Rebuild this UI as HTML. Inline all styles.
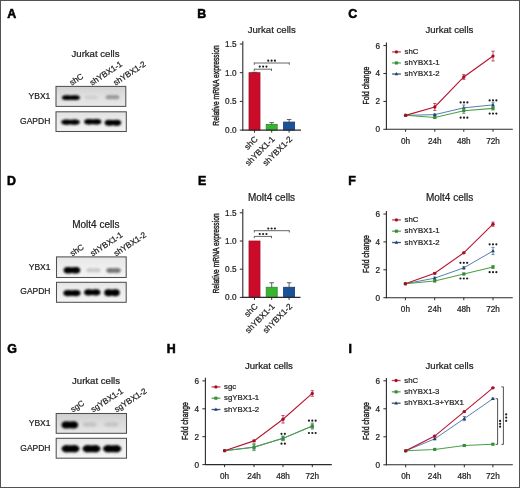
<!DOCTYPE html>
<html><head><meta charset="utf-8"><style>
html,body{margin:0;padding:0;background:#fff;}
svg{display:block;font-family:"Liberation Sans", sans-serif;will-change:transform;}
</style></head><body>
<svg width="520" height="488" viewBox="0 0 520 488">
<defs>
<linearGradient id="blotbg" x1="0" y1="0" x2="0" y2="1"><stop offset="0" stop-color="#d4d4d4"/><stop offset="0.5" stop-color="#e2e2e2"/><stop offset="1" stop-color="#ececec"/></linearGradient>
<linearGradient id="g0" x1="0" y1="0" x2="0" y2="1"><stop offset="0" stop-color="#d2d2d2"/><stop offset="0.5" stop-color="#e0e0e0"/><stop offset="1" stop-color="#e8e8e8"/></linearGradient><linearGradient id="g1" x1="0" y1="0" x2="0" y2="1"><stop offset="0" stop-color="#e2e2e2"/><stop offset="0.5" stop-color="#ececec"/><stop offset="1" stop-color="#f2f2f2"/></linearGradient><linearGradient id="g2" x1="0" y1="0" x2="0" y2="1"><stop offset="0" stop-color="#e6e6e6"/><stop offset="0.5" stop-color="#efefef"/><stop offset="1" stop-color="#f3f3f3"/></linearGradient><linearGradient id="g3" x1="0" y1="0" x2="0" y2="1"><stop offset="0" stop-color="#e6e6e6"/><stop offset="0.5" stop-color="#efefef"/><stop offset="1" stop-color="#f3f3f3"/></linearGradient><linearGradient id="g4" x1="0" y1="0" x2="0" y2="1"><stop offset="0" stop-color="#d0d0d0"/><stop offset="0.5" stop-color="#dcdcdc"/><stop offset="1" stop-color="#e6e6e6"/></linearGradient><linearGradient id="g5" x1="0" y1="0" x2="0" y2="1"><stop offset="0" stop-color="#e8e8e8"/><stop offset="0.5" stop-color="#f1f1f1"/><stop offset="1" stop-color="#f5f5f5"/></linearGradient>
<filter id="bl" x="-30%" y="-100%" width="160%" height="300%"><feGaussianBlur stdDeviation="0.8"/></filter>
</defs>
<rect x="0" y="0" width="520" height="488" fill="#fff"/>
<text x="7.3" y="17.9" font-size="12.4" text-anchor="start" font-weight="bold" fill="#000"  stroke="#000" stroke-width="0.55">A</text>
<text x="197.2" y="17.9" font-size="12.4" text-anchor="start" font-weight="bold" fill="#000"  stroke="#000" stroke-width="0.55">B</text>
<text x="348.2" y="18.0" font-size="12.4" text-anchor="start" font-weight="bold" fill="#000"  stroke="#000" stroke-width="0.55">C</text>
<text x="7.0" y="185.3" font-size="12.4" text-anchor="start" font-weight="bold" fill="#000"  stroke="#000" stroke-width="0.55">D</text>
<text x="198.0" y="185.3" font-size="12.4" text-anchor="start" font-weight="bold" fill="#000"  stroke="#000" stroke-width="0.55">E</text>
<text x="348.2" y="185.4" font-size="12.4" text-anchor="start" font-weight="bold" fill="#000"  stroke="#000" stroke-width="0.55">F</text>
<text x="7.2" y="352.7" font-size="12.4" text-anchor="start" font-weight="bold" fill="#000"  stroke="#000" stroke-width="0.55">G</text>
<text x="166.8" y="352.7" font-size="12.4" text-anchor="start" font-weight="bold" fill="#000"  stroke="#000" stroke-width="0.55">H</text>
<text x="348.4" y="352.7" font-size="12.4" text-anchor="start" font-weight="bold" fill="#000"  stroke="#000" stroke-width="0.55">I</text>
<text x="95.5" y="56.8" font-size="9.6" text-anchor="middle" font-weight="normal" fill="#222"  stroke="#222" stroke-width="0.22">Jurkat cells</text>
<text x="71.8" y="85.7" font-size="8.2" text-anchor="start" font-weight="normal" fill="#222" transform="rotate(-33 71.8 85.7)"  stroke="#222" stroke-width="0.22">shC</text>
<text x="92.0" y="85.7" font-size="8.2" text-anchor="start" font-weight="normal" fill="#222" transform="rotate(-33 92.0 85.7)"  stroke="#222" stroke-width="0.22">shYBX1-1</text>
<text x="115.5" y="85.7" font-size="8.2" text-anchor="start" font-weight="normal" fill="#222" transform="rotate(-33 115.5 85.7)"  stroke="#222" stroke-width="0.22">shYBX1-2</text>
<rect x="56.0" y="86.4" width="69.80" height="20.00" fill="url(#g0)" stroke="#505050" stroke-width="1.05"/>
<g fill="#050505" filter="url(#bl)"><ellipse cx="66.76" cy="97.70" rx="4.86" ry="2.40"/><ellipse cx="75.04" cy="97.70" rx="4.86" ry="2.40"/><rect x="64.82" y="95.59" width="12.17" height="4.22"/></g>
<g fill="#d0d0d0" filter="url(#bl)"><ellipse cx="88.34" cy="97.40" rx="3.54" ry="1.95"/><ellipse cx="94.36" cy="97.40" rx="3.54" ry="1.95"/><rect x="86.92" y="95.68" width="8.86" height="3.43"/></g>
<g fill="#999" filter="url(#bl)"><ellipse cx="109.33" cy="97.20" rx="3.73" ry="2.15"/><ellipse cx="115.67" cy="97.20" rx="3.73" ry="2.15"/><rect x="107.84" y="95.31" width="9.33" height="3.78"/></g>
<text x="50.3" y="99.4" font-size="8.5" text-anchor="end" font-weight="normal" fill="#222"  stroke="#222" stroke-width="0.22">YBX1</text>
<rect x="56.0" y="111.8" width="70.30" height="19.70" fill="url(#g1)" stroke="#505050" stroke-width="1.05"/>
<g fill="#050505" filter="url(#bl)"><ellipse cx="66.25" cy="122.10" rx="5.05" ry="2.65"/><ellipse cx="74.85" cy="122.10" rx="5.05" ry="2.65"/><rect x="64.23" y="119.77" width="12.64" height="4.66"/></g>
<g fill="#050505" filter="url(#bl)"><ellipse cx="88.77" cy="121.80" rx="4.67" ry="2.75"/><ellipse cx="96.73" cy="121.80" rx="4.67" ry="2.75"/><rect x="86.90" y="119.38" width="11.69" height="4.84"/></g>
<g fill="#050505" filter="url(#bl)"><ellipse cx="109.08" cy="122.70" rx="4.48" ry="2.95"/><ellipse cx="116.72" cy="122.70" rx="4.48" ry="2.95"/><rect x="107.29" y="120.10" width="11.22" height="5.19"/></g>
<text x="50.3" y="123.6" font-size="8.5" text-anchor="end" font-weight="normal" fill="#222"  stroke="#222" stroke-width="0.22">GAPDH</text>
<text x="271.7" y="33.2" font-size="9.6" text-anchor="middle" font-weight="normal" fill="#222"  stroke="#222" stroke-width="0.22">Jurkat cells</text>
<text x="0" y="0" font-size="9.2" text-anchor="middle" fill="#222" stroke="#222" stroke-width="0.42" transform="translate(218.6 85.5) rotate(-90) scale(0.735 1)">Relative mRNA expression</text>
<rect x="249.0" y="72.69999999999999" width="11.0" height="57.400000000000006" fill="#cc0a2a" stroke="#a00d25" stroke-width="0.8"/>
<line x1="254.5" y1="72.2408" x2="254.5" y2="72.69999999999999" stroke="#3a3a3a" stroke-width="0.8"/>
<line x1="252.2" y1="72.2408" x2="256.8" y2="72.2408" stroke="#3a3a3a" stroke-width="0.8"/>
<rect x="266.2" y="124.36" width="11.0" height="5.739999999999995" fill="#38b430" stroke="#2a8a2a" stroke-width="0.8"/>
<line x1="271.7" y1="122.63799999999999" x2="271.7" y2="124.36" stroke="#3a3a3a" stroke-width="0.8"/>
<line x1="269.4" y1="122.63799999999999" x2="274.0" y2="122.63799999999999" stroke="#3a3a3a" stroke-width="0.8"/>
<rect x="283.6" y="122.064" width="11.0" height="8.036000000000001" fill="#1b5196" stroke="#163a70" stroke-width="0.8"/>
<line x1="289.1" y1="119.481" x2="289.1" y2="122.064" stroke="#3a3a3a" stroke-width="0.8"/>
<line x1="286.8" y1="119.481" x2="291.40000000000003" y2="119.481" stroke="#3a3a3a" stroke-width="0.8"/>
<line x1="242.8" y1="41.3" x2="242.8" y2="130.6" stroke="#2a2a2a" stroke-width="1.1"/>
<line x1="242.3" y1="130.1" x2="301.0" y2="130.1" stroke="#2a2a2a" stroke-width="1.1"/>
<line x1="239.8" y1="130.1" x2="242.8" y2="130.1" stroke="#2a2a2a" stroke-width="1"/>
<text x="236.5" y="133.0" font-size="8.2" text-anchor="end" font-weight="normal" fill="#222"  stroke="#222" stroke-width="0.22">0.0</text>
<line x1="239.8" y1="101.39999999999999" x2="242.8" y2="101.39999999999999" stroke="#2a2a2a" stroke-width="1"/>
<text x="236.5" y="104.3" font-size="8.2" text-anchor="end" font-weight="normal" fill="#222"  stroke="#222" stroke-width="0.22">0.5</text>
<line x1="239.8" y1="72.69999999999999" x2="242.8" y2="72.69999999999999" stroke="#2a2a2a" stroke-width="1"/>
<text x="236.5" y="75.6" font-size="8.2" text-anchor="end" font-weight="normal" fill="#222"  stroke="#222" stroke-width="0.22">1.0</text>
<line x1="239.8" y1="44.0" x2="242.8" y2="44.0" stroke="#2a2a2a" stroke-width="1"/>
<text x="236.5" y="46.9" font-size="8.2" text-anchor="end" font-weight="normal" fill="#222"  stroke="#222" stroke-width="0.22">1.5</text>
<line x1="254.5" y1="130.1" x2="254.5" y2="132.6" stroke="#2a2a2a" stroke-width="1"/>
<line x1="271.7" y1="130.1" x2="271.7" y2="132.6" stroke="#2a2a2a" stroke-width="1"/>
<line x1="289.1" y1="130.1" x2="289.1" y2="132.6" stroke="#2a2a2a" stroke-width="1"/>
<text x="258.2" y="139.7" font-size="8.4" text-anchor="end" font-weight="normal" fill="#222" transform="rotate(-45 258.2 139.7)"  stroke="#222" stroke-width="0.22">shC</text>
<text x="275.2" y="139.7" font-size="8.4" text-anchor="end" font-weight="normal" fill="#222" transform="rotate(-45 275.2 139.7)"  stroke="#222" stroke-width="0.22">shYBX1-1</text>
<text x="292.8" y="139.7" font-size="8.4" text-anchor="end" font-weight="normal" fill="#222" transform="rotate(-45 292.8 139.7)"  stroke="#222" stroke-width="0.22">shYBX1-2</text>
<line x1="254.3" y1="69.2" x2="271.5" y2="69.2" stroke="#555" stroke-width="0.9"/>
<line x1="254.3" y1="68.75" x2="254.3" y2="71.0" stroke="#555" stroke-width="0.9"/>
<line x1="271.5" y1="68.75" x2="271.5" y2="71.0" stroke="#555" stroke-width="0.9"/>
<circle cx="259.75" cy="66.6" r="1.08" fill="#1a1a1a"/>
<circle cx="263.10" cy="66.6" r="1.08" fill="#1a1a1a"/>
<circle cx="266.45" cy="66.6" r="1.08" fill="#1a1a1a"/>
<line x1="254.3" y1="63.0" x2="289.3" y2="63.0" stroke="#555" stroke-width="0.9"/>
<line x1="254.3" y1="62.55" x2="254.3" y2="64.8" stroke="#555" stroke-width="0.9"/>
<line x1="289.3" y1="62.55" x2="289.3" y2="64.8" stroke="#555" stroke-width="0.9"/>
<circle cx="268.25" cy="60.7" r="1.08" fill="#1a1a1a"/>
<circle cx="271.60" cy="60.7" r="1.08" fill="#1a1a1a"/>
<circle cx="274.95" cy="60.7" r="1.08" fill="#1a1a1a"/>
<text x="449.4" y="33.2" font-size="9.6" text-anchor="middle" font-weight="normal" fill="#222"  stroke="#222" stroke-width="0.22">Jurkat cells</text>
<text x="0" y="0" font-size="9.0" text-anchor="middle" fill="#222" stroke="#222" stroke-width="0.42" transform="translate(368.6 85.6) rotate(-90) scale(0.765 1)">Fold change</text>
<line x1="386.4" y1="42.5" x2="386.4" y2="129.8" stroke="#2a2a2a" stroke-width="1.1"/>
<line x1="385.9" y1="129.3" x2="512.8" y2="129.3" stroke="#2a2a2a" stroke-width="1.1"/>
<line x1="383.4" y1="129.3" x2="386.4" y2="129.3" stroke="#2a2a2a" stroke-width="1"/>
<text x="380.09999999999997" y="132.20000000000002" font-size="8.2" text-anchor="end" font-weight="normal" fill="#222"  stroke="#222" stroke-width="0.22">0</text>
<line x1="383.4" y1="101.4" x2="386.4" y2="101.4" stroke="#2a2a2a" stroke-width="1"/>
<text x="380.09999999999997" y="104.30000000000001" font-size="8.2" text-anchor="end" font-weight="normal" fill="#222"  stroke="#222" stroke-width="0.22">2</text>
<line x1="383.4" y1="73.50000000000001" x2="386.4" y2="73.50000000000001" stroke="#2a2a2a" stroke-width="1"/>
<text x="380.09999999999997" y="76.40000000000002" font-size="8.2" text-anchor="end" font-weight="normal" fill="#222"  stroke="#222" stroke-width="0.22">4</text>
<line x1="383.4" y1="45.60000000000002" x2="386.4" y2="45.60000000000002" stroke="#2a2a2a" stroke-width="1"/>
<text x="380.09999999999997" y="48.50000000000002" font-size="8.2" text-anchor="end" font-weight="normal" fill="#222"  stroke="#222" stroke-width="0.22">6</text>
<line x1="405.6" y1="129.3" x2="405.6" y2="131.8" stroke="#2a2a2a" stroke-width="1"/>
<text x="405.6" y="143.5" font-size="8.2" text-anchor="middle" font-weight="normal" fill="#222"  stroke="#222" stroke-width="0.22">0h</text>
<line x1="434.8" y1="129.3" x2="434.8" y2="131.8" stroke="#2a2a2a" stroke-width="1"/>
<text x="434.8" y="143.5" font-size="8.2" text-anchor="middle" font-weight="normal" fill="#222"  stroke="#222" stroke-width="0.22">24h</text>
<line x1="463.8" y1="129.3" x2="463.8" y2="131.8" stroke="#2a2a2a" stroke-width="1"/>
<text x="463.8" y="143.5" font-size="8.2" text-anchor="middle" font-weight="normal" fill="#222"  stroke="#222" stroke-width="0.22">48h</text>
<line x1="493.0" y1="129.3" x2="493.0" y2="131.8" stroke="#2a2a2a" stroke-width="1"/>
<text x="493.0" y="143.5" font-size="8.2" text-anchor="middle" font-weight="normal" fill="#222"  stroke="#222" stroke-width="0.22">72h</text>
<polyline points="405.6,115.35000000000001 434.8,114.65250000000002 463.8,107.81700000000001 493.0,104.88750000000002" fill="none" stroke="#3a679c" stroke-width="0.85"/>
<path d="M405.60 113.45 L407.40 116.65 L403.80 116.65 Z" fill="#1f3f6a"/>
<line x1="434.8" y1="113.95500000000001" x2="434.8" y2="115.35000000000001" stroke="#3a679c" stroke-width="0.75"/>
<line x1="433.2" y1="113.95500000000001" x2="436.40000000000003" y2="113.95500000000001" stroke="#3a679c" stroke-width="0.75"/>
<line x1="433.2" y1="115.35000000000001" x2="436.40000000000003" y2="115.35000000000001" stroke="#3a679c" stroke-width="0.75"/>
<path d="M434.80 112.75 L436.60 115.95 L433.00 115.95 Z" fill="#1f3f6a"/>
<line x1="463.8" y1="105.02700000000002" x2="463.8" y2="110.60700000000001" stroke="#3a679c" stroke-width="0.75"/>
<line x1="462.2" y1="105.02700000000002" x2="465.40000000000003" y2="105.02700000000002" stroke="#3a679c" stroke-width="0.75"/>
<line x1="462.2" y1="110.60700000000001" x2="465.40000000000003" y2="110.60700000000001" stroke="#3a679c" stroke-width="0.75"/>
<path d="M463.80 105.92 L465.60 109.12 L462.00 109.12 Z" fill="#1f3f6a"/>
<line x1="493.0" y1="102.79500000000002" x2="493.0" y2="106.98000000000002" stroke="#3a679c" stroke-width="0.75"/>
<line x1="491.4" y1="102.79500000000002" x2="494.6" y2="102.79500000000002" stroke="#3a679c" stroke-width="0.75"/>
<line x1="491.4" y1="106.98000000000002" x2="494.6" y2="106.98000000000002" stroke="#3a679c" stroke-width="0.75"/>
<path d="M493.00 102.99 L494.80 106.19 L491.20 106.19 Z" fill="#1f3f6a"/>
<polyline points="405.6,115.35000000000001 434.8,117.44250000000001 463.8,110.74650000000001 493.0,108.37500000000001" fill="none" stroke="#48a048" stroke-width="1.05"/>
<rect x="404.05" y="113.80" width="3.1" height="3.1" fill="#3a8c3a"/>
<line x1="434.8" y1="116.745" x2="434.8" y2="118.14000000000001" stroke="#48a048" stroke-width="0.75"/>
<line x1="433.2" y1="116.745" x2="436.40000000000003" y2="116.745" stroke="#48a048" stroke-width="0.75"/>
<line x1="433.2" y1="118.14000000000001" x2="436.40000000000003" y2="118.14000000000001" stroke="#48a048" stroke-width="0.75"/>
<rect x="433.25" y="115.89" width="3.1" height="3.1" fill="#3a8c3a"/>
<line x1="463.8" y1="107.9565" x2="463.8" y2="113.53650000000002" stroke="#48a048" stroke-width="0.75"/>
<line x1="462.2" y1="107.9565" x2="465.40000000000003" y2="107.9565" stroke="#48a048" stroke-width="0.75"/>
<line x1="462.2" y1="113.53650000000002" x2="465.40000000000003" y2="113.53650000000002" stroke="#48a048" stroke-width="0.75"/>
<rect x="462.25" y="109.20" width="3.1" height="3.1" fill="#3a8c3a"/>
<line x1="493.0" y1="106.70100000000001" x2="493.0" y2="110.049" stroke="#48a048" stroke-width="0.75"/>
<line x1="491.4" y1="106.70100000000001" x2="494.6" y2="106.70100000000001" stroke="#48a048" stroke-width="0.75"/>
<line x1="491.4" y1="110.049" x2="494.6" y2="110.049" stroke="#48a048" stroke-width="0.75"/>
<rect x="491.45" y="106.83" width="3.1" height="3.1" fill="#3a8c3a"/>
<polyline points="405.6,115.35000000000001 434.8,106.98000000000002 463.8,76.98750000000001 493.0,56.062500000000014" fill="none" stroke="#b8152f" stroke-width="1.1"/>
<circle cx="405.6" cy="115.35" r="1.65" fill="#a30f29"/>
<line x1="434.8" y1="103.4925" x2="434.8" y2="110.46750000000002" stroke="#b8152f" stroke-width="0.75"/>
<line x1="433.2" y1="103.4925" x2="436.40000000000003" y2="103.4925" stroke="#b8152f" stroke-width="0.75"/>
<line x1="433.2" y1="110.46750000000002" x2="436.40000000000003" y2="110.46750000000002" stroke="#b8152f" stroke-width="0.75"/>
<circle cx="434.8" cy="106.98" r="1.65" fill="#a30f29"/>
<line x1="463.8" y1="74.61600000000001" x2="463.8" y2="79.35900000000001" stroke="#b8152f" stroke-width="0.75"/>
<line x1="462.2" y1="74.61600000000001" x2="465.40000000000003" y2="74.61600000000001" stroke="#b8152f" stroke-width="0.75"/>
<line x1="462.2" y1="79.35900000000001" x2="465.40000000000003" y2="79.35900000000001" stroke="#b8152f" stroke-width="0.75"/>
<circle cx="463.8" cy="76.99" r="1.65" fill="#a30f29"/>
<line x1="493.0" y1="51.18000000000002" x2="493.0" y2="60.94500000000001" stroke="#b8152f" stroke-width="0.75"/>
<line x1="491.4" y1="51.18000000000002" x2="494.6" y2="51.18000000000002" stroke="#b8152f" stroke-width="0.75"/>
<line x1="491.4" y1="60.94500000000001" x2="494.6" y2="60.94500000000001" stroke="#b8152f" stroke-width="0.75"/>
<circle cx="493.0" cy="56.06" r="1.65" fill="#a30f29"/>
<line x1="392.1" y1="51.9" x2="400.90000000000003" y2="51.9" stroke="#c8405c" stroke-width="1.3"/>
<circle cx="396.40000000000003" cy="51.90" r="1.65" fill="#a30f29"/>
<text x="404.6" y="54.1" font-size="7.8" text-anchor="start" font-weight="normal" fill="#222"  stroke="#222" stroke-width="0.22">shC</text>
<line x1="392.1" y1="62.95" x2="400.90000000000003" y2="62.95" stroke="#4aa84a" stroke-width="1.3"/>
<rect x="394.85" y="61.40" width="3.1" height="3.1" fill="#3a8c3a"/>
<text x="404.6" y="65.15" font-size="7.8" text-anchor="start" font-weight="normal" fill="#222"  stroke="#222" stroke-width="0.22">shYBX1-1</text>
<line x1="392.1" y1="74.0" x2="400.90000000000003" y2="74.0" stroke="#34597f" stroke-width="1.3"/>
<path d="M396.40 72.10 L398.20 75.30 L394.60 75.30 Z" fill="#1f3f6a"/>
<text x="404.6" y="76.2" font-size="7.8" text-anchor="start" font-weight="normal" fill="#222"  stroke="#222" stroke-width="0.22">shYBX1-2</text>
<circle cx="460.65" cy="102.4" r="1.08" fill="#1a1a1a"/>
<circle cx="464.00" cy="102.4" r="1.08" fill="#1a1a1a"/>
<circle cx="467.35" cy="102.4" r="1.08" fill="#1a1a1a"/>
<circle cx="460.65" cy="117.7" r="1.08" fill="#1a1a1a"/>
<circle cx="464.00" cy="117.7" r="1.08" fill="#1a1a1a"/>
<circle cx="467.35" cy="117.7" r="1.08" fill="#1a1a1a"/>
<circle cx="489.65" cy="100.4" r="1.08" fill="#1a1a1a"/>
<circle cx="493.00" cy="100.4" r="1.08" fill="#1a1a1a"/>
<circle cx="496.35" cy="100.4" r="1.08" fill="#1a1a1a"/>
<circle cx="489.65" cy="113.6" r="1.08" fill="#1a1a1a"/>
<circle cx="493.00" cy="113.6" r="1.08" fill="#1a1a1a"/>
<circle cx="496.35" cy="113.6" r="1.08" fill="#1a1a1a"/>
<text x="95.8" y="227.5" font-size="10.0" text-anchor="middle" font-weight="normal" fill="#222"  stroke="#222" stroke-width="0.22">Molt4 cells</text>
<text x="72.3" y="256.4" font-size="8.2" text-anchor="start" font-weight="normal" fill="#222" transform="rotate(-33 72.3 256.4)"  stroke="#222" stroke-width="0.22">shC</text>
<text x="92.5" y="256.4" font-size="8.2" text-anchor="start" font-weight="normal" fill="#222" transform="rotate(-33 92.5 256.4)"  stroke="#222" stroke-width="0.22">shYBX1-1</text>
<text x="116.0" y="256.4" font-size="8.2" text-anchor="start" font-weight="normal" fill="#222" transform="rotate(-33 116.0 256.4)"  stroke="#222" stroke-width="0.22">shYBX1-2</text>
<rect x="56.5" y="256.9" width="69.70" height="20.60" fill="url(#g2)" stroke="#505050" stroke-width="1.05"/>
<g fill="#050505" filter="url(#bl)"><ellipse cx="68.08" cy="270.30" rx="4.48" ry="3.25"/><ellipse cx="75.72" cy="270.30" rx="4.48" ry="3.25"/><rect x="66.29" y="267.44" width="11.22" height="5.72"/></g>
<g fill="#c8c8c8" filter="url(#bl)"><ellipse cx="90.12" cy="270.20" rx="3.92" ry="2.05"/><ellipse cx="96.78" cy="270.20" rx="3.92" ry="2.05"/><rect x="88.55" y="268.40" width="9.80" height="3.61"/></g>
<g fill="#767676" filter="url(#bl)"><ellipse cx="110.14" cy="270.50" rx="3.94" ry="2.45"/><ellipse cx="116.86" cy="270.50" rx="3.94" ry="2.45"/><rect x="108.57" y="268.34" width="9.87" height="4.31"/></g>
<text x="50.5" y="270.0" font-size="8.5" text-anchor="end" font-weight="normal" fill="#222"  stroke="#222" stroke-width="0.22">YBX1</text>
<rect x="56.5" y="282.3" width="69.70" height="20.00" fill="url(#g3)" stroke="#505050" stroke-width="1.05"/>
<g fill="#050505" filter="url(#bl)"><ellipse cx="67.97" cy="293.10" rx="4.67" ry="3.15"/><ellipse cx="75.93" cy="293.10" rx="4.67" ry="3.15"/><rect x="66.10" y="290.33" width="11.69" height="5.54"/></g>
<g fill="#050505" filter="url(#bl)"><ellipse cx="88.50" cy="292.40" rx="4.40" ry="3.05"/><ellipse cx="96.00" cy="292.40" rx="4.40" ry="3.05"/><rect x="86.74" y="289.72" width="11.02" height="5.37"/></g>
<g fill="#050505" filter="url(#bl)"><ellipse cx="108.41" cy="292.70" rx="4.21" ry="3.45"/><ellipse cx="115.59" cy="292.70" rx="4.21" ry="3.45"/><rect x="106.73" y="289.66" width="10.55" height="6.07"/></g>
<text x="50.5" y="294.3" font-size="8.5" text-anchor="end" font-weight="normal" fill="#222"  stroke="#222" stroke-width="0.22">GAPDH</text>
<text x="271.5" y="200.8" font-size="10.0" text-anchor="middle" font-weight="normal" fill="#222"  stroke="#222" stroke-width="0.22">Molt4 cells</text>
<text x="0" y="0" font-size="9.2" text-anchor="middle" fill="#222" stroke="#222" stroke-width="0.42" transform="translate(218.6 253.4) rotate(-90) scale(0.735 1)">Relative mRNA expression</text>
<rect x="249.0" y="240.99999999999997" width="11.0" height="56.400000000000006" fill="#cc0a2a" stroke="#a00d25" stroke-width="0.8"/>
<rect x="266.2" y="287.248" width="11.0" height="10.151999999999987" fill="#38b430" stroke="#2a8a2a" stroke-width="0.8"/>
<line x1="271.7" y1="282.736" x2="271.7" y2="287.248" stroke="#3a3a3a" stroke-width="0.8"/>
<line x1="269.4" y1="282.736" x2="274.0" y2="282.736" stroke="#3a3a3a" stroke-width="0.8"/>
<rect x="283.6" y="287.248" width="11.0" height="10.151999999999987" fill="#1b5196" stroke="#163a70" stroke-width="0.8"/>
<line x1="289.1" y1="282.736" x2="289.1" y2="287.248" stroke="#3a3a3a" stroke-width="0.8"/>
<line x1="286.8" y1="282.736" x2="291.40000000000003" y2="282.736" stroke="#3a3a3a" stroke-width="0.8"/>
<line x1="242.8" y1="208.9" x2="242.8" y2="297.9" stroke="#2a2a2a" stroke-width="1.1"/>
<line x1="242.3" y1="297.4" x2="300.5" y2="297.4" stroke="#2a2a2a" stroke-width="1.1"/>
<line x1="239.8" y1="297.4" x2="242.8" y2="297.4" stroke="#2a2a2a" stroke-width="1"/>
<text x="236.5" y="300.29999999999995" font-size="8.2" text-anchor="end" font-weight="normal" fill="#222"  stroke="#222" stroke-width="0.22">0.0</text>
<line x1="239.8" y1="269.2" x2="242.8" y2="269.2" stroke="#2a2a2a" stroke-width="1"/>
<text x="236.5" y="272.09999999999997" font-size="8.2" text-anchor="end" font-weight="normal" fill="#222"  stroke="#222" stroke-width="0.22">0.5</text>
<line x1="239.8" y1="240.99999999999997" x2="242.8" y2="240.99999999999997" stroke="#2a2a2a" stroke-width="1"/>
<text x="236.5" y="243.89999999999998" font-size="8.2" text-anchor="end" font-weight="normal" fill="#222"  stroke="#222" stroke-width="0.22">1.0</text>
<line x1="239.8" y1="212.79999999999998" x2="242.8" y2="212.79999999999998" stroke="#2a2a2a" stroke-width="1"/>
<text x="236.5" y="215.7" font-size="8.2" text-anchor="end" font-weight="normal" fill="#222"  stroke="#222" stroke-width="0.22">1.5</text>
<line x1="254.5" y1="297.4" x2="254.5" y2="299.9" stroke="#2a2a2a" stroke-width="1"/>
<line x1="271.7" y1="297.4" x2="271.7" y2="299.9" stroke="#2a2a2a" stroke-width="1"/>
<line x1="289.1" y1="297.4" x2="289.1" y2="299.9" stroke="#2a2a2a" stroke-width="1"/>
<text x="258.2" y="307.0" font-size="8.4" text-anchor="end" font-weight="normal" fill="#222" transform="rotate(-45 258.2 307.0)"  stroke="#222" stroke-width="0.22">shC</text>
<text x="275.2" y="307.0" font-size="8.4" text-anchor="end" font-weight="normal" fill="#222" transform="rotate(-45 275.2 307.0)"  stroke="#222" stroke-width="0.22">shYBX1-1</text>
<text x="292.8" y="307.0" font-size="8.4" text-anchor="end" font-weight="normal" fill="#222" transform="rotate(-45 292.8 307.0)"  stroke="#222" stroke-width="0.22">shYBX1-2</text>
<line x1="254.3" y1="236.4" x2="271.5" y2="236.4" stroke="#555" stroke-width="0.9"/>
<line x1="254.3" y1="235.95000000000002" x2="254.3" y2="238.20000000000002" stroke="#555" stroke-width="0.9"/>
<line x1="271.5" y1="235.95000000000002" x2="271.5" y2="238.20000000000002" stroke="#555" stroke-width="0.9"/>
<circle cx="259.75" cy="234.0" r="1.08" fill="#1a1a1a"/>
<circle cx="263.10" cy="234.0" r="1.08" fill="#1a1a1a"/>
<circle cx="266.45" cy="234.0" r="1.08" fill="#1a1a1a"/>
<line x1="254.3" y1="230.7" x2="289.3" y2="230.7" stroke="#555" stroke-width="0.9"/>
<line x1="254.3" y1="230.25" x2="254.3" y2="232.5" stroke="#555" stroke-width="0.9"/>
<line x1="289.3" y1="230.25" x2="289.3" y2="232.5" stroke="#555" stroke-width="0.9"/>
<circle cx="268.25" cy="228.5" r="1.08" fill="#1a1a1a"/>
<circle cx="271.60" cy="228.5" r="1.08" fill="#1a1a1a"/>
<circle cx="274.95" cy="228.5" r="1.08" fill="#1a1a1a"/>
<text x="449.6" y="201.3" font-size="10.0" text-anchor="middle" font-weight="normal" fill="#222"  stroke="#222" stroke-width="0.22">Molt4 cells</text>
<text x="0" y="0" font-size="9.0" text-anchor="middle" fill="#222" stroke="#222" stroke-width="0.42" transform="translate(368.6 254) rotate(-90) scale(0.765 1)">Fold change</text>
<line x1="386.4" y1="210.9" x2="386.4" y2="298.2" stroke="#2a2a2a" stroke-width="1.1"/>
<line x1="385.9" y1="297.7" x2="512.8" y2="297.7" stroke="#2a2a2a" stroke-width="1.1"/>
<line x1="383.4" y1="297.7" x2="386.4" y2="297.7" stroke="#2a2a2a" stroke-width="1"/>
<text x="380.09999999999997" y="300.59999999999997" font-size="8.2" text-anchor="end" font-weight="normal" fill="#222"  stroke="#222" stroke-width="0.22">0</text>
<line x1="383.4" y1="269.8" x2="386.4" y2="269.8" stroke="#2a2a2a" stroke-width="1"/>
<text x="380.09999999999997" y="272.7" font-size="8.2" text-anchor="end" font-weight="normal" fill="#222"  stroke="#222" stroke-width="0.22">2</text>
<line x1="383.4" y1="241.89999999999998" x2="386.4" y2="241.89999999999998" stroke="#2a2a2a" stroke-width="1"/>
<text x="380.09999999999997" y="244.79999999999998" font-size="8.2" text-anchor="end" font-weight="normal" fill="#222"  stroke="#222" stroke-width="0.22">4</text>
<line x1="383.4" y1="214.0" x2="386.4" y2="214.0" stroke="#2a2a2a" stroke-width="1"/>
<text x="380.09999999999997" y="216.9" font-size="8.2" text-anchor="end" font-weight="normal" fill="#222"  stroke="#222" stroke-width="0.22">6</text>
<line x1="405.4" y1="297.7" x2="405.4" y2="300.2" stroke="#2a2a2a" stroke-width="1"/>
<text x="405.4" y="311.9" font-size="8.2" text-anchor="middle" font-weight="normal" fill="#222"  stroke="#222" stroke-width="0.22">0h</text>
<line x1="434.7" y1="297.7" x2="434.7" y2="300.2" stroke="#2a2a2a" stroke-width="1"/>
<text x="434.7" y="311.9" font-size="8.2" text-anchor="middle" font-weight="normal" fill="#222"  stroke="#222" stroke-width="0.22">24h</text>
<line x1="463.8" y1="297.7" x2="463.8" y2="300.2" stroke="#2a2a2a" stroke-width="1"/>
<text x="463.8" y="311.9" font-size="8.2" text-anchor="middle" font-weight="normal" fill="#222"  stroke="#222" stroke-width="0.22">48h</text>
<line x1="493.0" y1="297.7" x2="493.0" y2="300.2" stroke="#2a2a2a" stroke-width="1"/>
<text x="493.0" y="311.9" font-size="8.2" text-anchor="middle" font-weight="normal" fill="#222"  stroke="#222" stroke-width="0.22">72h</text>
<polyline points="405.4,283.75 434.7,278.17 463.8,267.847 493.0,250.96749999999997" fill="none" stroke="#3a679c" stroke-width="0.85"/>
<path d="M405.40 281.85 L407.20 285.05 L403.60 285.05 Z" fill="#1f3f6a"/>
<line x1="434.7" y1="277.054" x2="434.7" y2="279.286" stroke="#3a679c" stroke-width="0.75"/>
<line x1="433.09999999999997" y1="277.054" x2="436.3" y2="277.054" stroke="#3a679c" stroke-width="0.75"/>
<line x1="433.09999999999997" y1="279.286" x2="436.3" y2="279.286" stroke="#3a679c" stroke-width="0.75"/>
<path d="M434.70 276.27 L436.50 279.47 L432.90 279.47 Z" fill="#1f3f6a"/>
<line x1="463.8" y1="266.731" x2="463.8" y2="268.96299999999997" stroke="#3a679c" stroke-width="0.75"/>
<line x1="462.2" y1="266.731" x2="465.40000000000003" y2="266.731" stroke="#3a679c" stroke-width="0.75"/>
<line x1="462.2" y1="268.96299999999997" x2="465.40000000000003" y2="268.96299999999997" stroke="#3a679c" stroke-width="0.75"/>
<path d="M463.80 265.95 L465.60 269.15 L462.00 269.15 Z" fill="#1f3f6a"/>
<line x1="493.0" y1="247.3405" x2="493.0" y2="254.59449999999998" stroke="#3a679c" stroke-width="0.75"/>
<line x1="491.4" y1="247.3405" x2="494.6" y2="247.3405" stroke="#3a679c" stroke-width="0.75"/>
<line x1="491.4" y1="254.59449999999998" x2="494.6" y2="254.59449999999998" stroke="#3a679c" stroke-width="0.75"/>
<path d="M493.00 249.07 L494.80 252.27 L491.20 252.27 Z" fill="#1f3f6a"/>
<polyline points="405.4,283.75 434.7,280.96 463.8,273.985 493.0,267.01" fill="none" stroke="#48a048" stroke-width="1.05"/>
<rect x="403.85" y="282.20" width="3.1" height="3.1" fill="#3a8c3a"/>
<line x1="434.7" y1="280.123" x2="434.7" y2="281.79699999999997" stroke="#48a048" stroke-width="0.75"/>
<line x1="433.09999999999997" y1="280.123" x2="436.3" y2="280.123" stroke="#48a048" stroke-width="0.75"/>
<line x1="433.09999999999997" y1="281.79699999999997" x2="436.3" y2="281.79699999999997" stroke="#48a048" stroke-width="0.75"/>
<rect x="433.15" y="279.41" width="3.1" height="3.1" fill="#3a8c3a"/>
<line x1="463.8" y1="273.14799999999997" x2="463.8" y2="274.822" stroke="#48a048" stroke-width="0.75"/>
<line x1="462.2" y1="273.14799999999997" x2="465.40000000000003" y2="273.14799999999997" stroke="#48a048" stroke-width="0.75"/>
<line x1="462.2" y1="274.822" x2="465.40000000000003" y2="274.822" stroke="#48a048" stroke-width="0.75"/>
<rect x="462.25" y="272.44" width="3.1" height="3.1" fill="#3a8c3a"/>
<line x1="493.0" y1="265.615" x2="493.0" y2="268.405" stroke="#48a048" stroke-width="0.75"/>
<line x1="491.4" y1="265.615" x2="494.6" y2="265.615" stroke="#48a048" stroke-width="0.75"/>
<line x1="491.4" y1="268.405" x2="494.6" y2="268.405" stroke="#48a048" stroke-width="0.75"/>
<rect x="491.45" y="265.46" width="3.1" height="3.1" fill="#3a8c3a"/>
<polyline points="405.4,283.75 434.7,273.28749999999997 463.8,252.781 493.0,224.18349999999998" fill="none" stroke="#b8152f" stroke-width="1.1"/>
<circle cx="405.4" cy="283.75" r="1.65" fill="#a30f29"/>
<line x1="434.7" y1="272.59" x2="434.7" y2="273.985" stroke="#b8152f" stroke-width="0.75"/>
<line x1="433.09999999999997" y1="272.59" x2="436.3" y2="272.59" stroke="#b8152f" stroke-width="0.75"/>
<line x1="433.09999999999997" y1="273.985" x2="436.3" y2="273.985" stroke="#b8152f" stroke-width="0.75"/>
<circle cx="434.7" cy="273.29" r="1.65" fill="#a30f29"/>
<line x1="463.8" y1="252.0835" x2="463.8" y2="253.4785" stroke="#b8152f" stroke-width="0.75"/>
<line x1="462.2" y1="252.0835" x2="465.40000000000003" y2="252.0835" stroke="#b8152f" stroke-width="0.75"/>
<line x1="462.2" y1="253.4785" x2="465.40000000000003" y2="253.4785" stroke="#b8152f" stroke-width="0.75"/>
<circle cx="463.8" cy="252.78" r="1.65" fill="#a30f29"/>
<line x1="493.0" y1="222.091" x2="493.0" y2="226.276" stroke="#b8152f" stroke-width="0.75"/>
<line x1="491.4" y1="222.091" x2="494.6" y2="222.091" stroke="#b8152f" stroke-width="0.75"/>
<line x1="491.4" y1="226.276" x2="494.6" y2="226.276" stroke="#b8152f" stroke-width="0.75"/>
<circle cx="493.0" cy="224.18" r="1.65" fill="#a30f29"/>
<line x1="392.1" y1="219.9" x2="400.90000000000003" y2="219.9" stroke="#c8405c" stroke-width="1.3"/>
<circle cx="396.40000000000003" cy="219.90" r="1.65" fill="#a30f29"/>
<text x="404.6" y="222.1" font-size="7.8" text-anchor="start" font-weight="normal" fill="#222"  stroke="#222" stroke-width="0.22">shC</text>
<line x1="392.1" y1="231.20000000000002" x2="400.90000000000003" y2="231.20000000000002" stroke="#4aa84a" stroke-width="1.3"/>
<rect x="394.85" y="229.65" width="3.1" height="3.1" fill="#3a8c3a"/>
<text x="404.6" y="233.4" font-size="7.8" text-anchor="start" font-weight="normal" fill="#222"  stroke="#222" stroke-width="0.22">shYBX1-1</text>
<line x1="392.1" y1="242.5" x2="400.90000000000003" y2="242.5" stroke="#34597f" stroke-width="1.3"/>
<path d="M396.40 240.60 L398.20 243.80 L394.60 243.80 Z" fill="#1f3f6a"/>
<text x="404.6" y="244.7" font-size="7.8" text-anchor="start" font-weight="normal" fill="#222"  stroke="#222" stroke-width="0.22">shYBX1-2</text>
<circle cx="460.45" cy="262.8" r="1.08" fill="#1a1a1a"/>
<circle cx="463.80" cy="262.8" r="1.08" fill="#1a1a1a"/>
<circle cx="467.15" cy="262.8" r="1.08" fill="#1a1a1a"/>
<circle cx="460.45" cy="278.5" r="1.08" fill="#1a1a1a"/>
<circle cx="463.80" cy="278.5" r="1.08" fill="#1a1a1a"/>
<circle cx="467.15" cy="278.5" r="1.08" fill="#1a1a1a"/>
<circle cx="489.65" cy="244.3" r="1.08" fill="#1a1a1a"/>
<circle cx="493.00" cy="244.3" r="1.08" fill="#1a1a1a"/>
<circle cx="496.35" cy="244.3" r="1.08" fill="#1a1a1a"/>
<circle cx="489.65" cy="272.2" r="1.08" fill="#1a1a1a"/>
<circle cx="493.00" cy="272.2" r="1.08" fill="#1a1a1a"/>
<circle cx="496.35" cy="272.2" r="1.08" fill="#1a1a1a"/>
<text x="96.0" y="383.6" font-size="9.6" text-anchor="middle" font-weight="normal" fill="#222"  stroke="#222" stroke-width="0.22">Jurkat cells</text>
<text x="72.8" y="412.5" font-size="8.2" text-anchor="start" font-weight="normal" fill="#222" transform="rotate(-33 72.8 412.5)"  stroke="#222" stroke-width="0.22">sgC</text>
<text x="93.0" y="412.5" font-size="8.2" text-anchor="start" font-weight="normal" fill="#222" transform="rotate(-33 93.0 412.5)"  stroke="#222" stroke-width="0.22">sgYBX1-1</text>
<text x="116.5" y="412.5" font-size="8.2" text-anchor="start" font-weight="normal" fill="#222" transform="rotate(-33 116.5 412.5)"  stroke="#222" stroke-width="0.22">sgYBX1-2</text>
<rect x="56.2" y="413.5" width="70.30" height="19.80" fill="url(#g4)" stroke="#505050" stroke-width="1.05"/>
<g fill="#030303" filter="url(#bl)"><ellipse cx="65.98" cy="424.90" rx="4.48" ry="3.35"/><ellipse cx="73.62" cy="424.90" rx="4.48" ry="3.35"/><rect x="64.19" y="421.55" width="11.22" height="6.70"/></g>
<g fill="#c4c4c4" filter="url(#bl)"><ellipse cx="86.43" cy="424.40" rx="3.73" ry="2.05"/><ellipse cx="92.77" cy="424.40" rx="3.73" ry="2.05"/><rect x="84.94" y="422.35" width="9.33" height="4.10"/></g>
<g fill="#c6c6c6" filter="url(#bl)"><ellipse cx="108.12" cy="424.40" rx="3.92" ry="2.05"/><ellipse cx="114.78" cy="424.40" rx="3.92" ry="2.05"/><rect x="106.55" y="422.35" width="9.80" height="4.10"/></g>
<text x="50.5" y="426.4" font-size="8.5" text-anchor="end" font-weight="normal" fill="#222"  stroke="#222" stroke-width="0.22">YBX1</text>
<rect x="56.2" y="438.3" width="70.30" height="19.90" fill="url(#g5)" stroke="#505050" stroke-width="1.05"/>
<g fill="#030303" filter="url(#bl)"><ellipse cx="66.36" cy="448.80" rx="4.86" ry="3.45"/><ellipse cx="74.64" cy="448.80" rx="4.86" ry="3.45"/><rect x="64.42" y="445.35" width="12.17" height="6.90"/></g>
<g fill="#030303" filter="url(#bl)"><ellipse cx="87.36" cy="448.80" rx="4.86" ry="3.45"/><ellipse cx="95.64" cy="448.80" rx="4.86" ry="3.45"/><rect x="85.42" y="445.35" width="12.17" height="6.90"/></g>
<g fill="#030303" filter="url(#bl)"><ellipse cx="107.94" cy="448.80" rx="4.94" ry="3.45"/><ellipse cx="116.36" cy="448.80" rx="4.94" ry="3.45"/><rect x="105.96" y="445.35" width="12.37" height="6.90"/></g>
<text x="50.5" y="450.6" font-size="8.5" text-anchor="end" font-weight="normal" fill="#222"  stroke="#222" stroke-width="0.22">GAPDH</text>
<text x="268.9" y="368.5" font-size="9.6" text-anchor="middle" font-weight="normal" fill="#222"  stroke="#222" stroke-width="0.22">Jurkat cells</text>
<text x="0" y="0" font-size="9.0" text-anchor="middle" fill="#222" stroke="#222" stroke-width="0.42" transform="translate(187.6 421) rotate(-90) scale(0.765 1)">Fold change</text>
<line x1="205.4" y1="377.7" x2="205.4" y2="465.1" stroke="#2a2a2a" stroke-width="1.1"/>
<line x1="204.9" y1="464.6" x2="331.8" y2="464.6" stroke="#2a2a2a" stroke-width="1.1"/>
<line x1="202.4" y1="464.6" x2="205.4" y2="464.6" stroke="#2a2a2a" stroke-width="1"/>
<text x="199.1" y="467.5" font-size="8.2" text-anchor="end" font-weight="normal" fill="#222"  stroke="#222" stroke-width="0.22">0</text>
<line x1="202.4" y1="436.70000000000005" x2="205.4" y2="436.70000000000005" stroke="#2a2a2a" stroke-width="1"/>
<text x="199.1" y="439.6" font-size="8.2" text-anchor="end" font-weight="normal" fill="#222"  stroke="#222" stroke-width="0.22">2</text>
<line x1="202.4" y1="408.8" x2="205.4" y2="408.8" stroke="#2a2a2a" stroke-width="1"/>
<text x="199.1" y="411.7" font-size="8.2" text-anchor="end" font-weight="normal" fill="#222"  stroke="#222" stroke-width="0.22">4</text>
<line x1="202.4" y1="380.90000000000003" x2="205.4" y2="380.90000000000003" stroke="#2a2a2a" stroke-width="1"/>
<text x="199.1" y="383.8" font-size="8.2" text-anchor="end" font-weight="normal" fill="#222"  stroke="#222" stroke-width="0.22">6</text>
<line x1="224.6" y1="464.6" x2="224.6" y2="467.1" stroke="#2a2a2a" stroke-width="1"/>
<text x="224.6" y="478.8" font-size="8.2" text-anchor="middle" font-weight="normal" fill="#222"  stroke="#222" stroke-width="0.22">0h</text>
<line x1="254.0" y1="464.6" x2="254.0" y2="467.1" stroke="#2a2a2a" stroke-width="1"/>
<text x="254.0" y="478.8" font-size="8.2" text-anchor="middle" font-weight="normal" fill="#222"  stroke="#222" stroke-width="0.22">24h</text>
<line x1="283.0" y1="464.6" x2="283.0" y2="467.1" stroke="#2a2a2a" stroke-width="1"/>
<text x="283.0" y="478.8" font-size="8.2" text-anchor="middle" font-weight="normal" fill="#222"  stroke="#222" stroke-width="0.22">48h</text>
<line x1="312.3" y1="464.6" x2="312.3" y2="467.1" stroke="#2a2a2a" stroke-width="1"/>
<text x="312.3" y="478.8" font-size="8.2" text-anchor="middle" font-weight="normal" fill="#222"  stroke="#222" stroke-width="0.22">72h</text>
<polyline points="224.6,450.65000000000003 254.0,447.1625 283.0,438.374 312.3,426.098" fill="none" stroke="#3a679c" stroke-width="0.85"/>
<path d="M224.60 448.75 L226.40 451.95 L222.80 451.95 Z" fill="#1f3f6a"/>
<line x1="254.0" y1="444.3725" x2="254.0" y2="449.95250000000004" stroke="#3a679c" stroke-width="0.75"/>
<line x1="252.4" y1="444.3725" x2="255.6" y2="444.3725" stroke="#3a679c" stroke-width="0.75"/>
<line x1="252.4" y1="449.95250000000004" x2="255.6" y2="449.95250000000004" stroke="#3a679c" stroke-width="0.75"/>
<path d="M254.00 445.26 L255.80 448.46 L252.20 448.46 Z" fill="#1f3f6a"/>
<line x1="283.0" y1="436.28150000000005" x2="283.0" y2="440.4665" stroke="#3a679c" stroke-width="0.75"/>
<line x1="281.4" y1="436.28150000000005" x2="284.6" y2="436.28150000000005" stroke="#3a679c" stroke-width="0.75"/>
<line x1="281.4" y1="440.4665" x2="284.6" y2="440.4665" stroke="#3a679c" stroke-width="0.75"/>
<path d="M283.00 436.47 L284.80 439.67 L281.20 439.67 Z" fill="#1f3f6a"/>
<line x1="312.3" y1="424.00550000000004" x2="312.3" y2="428.19050000000004" stroke="#3a679c" stroke-width="0.75"/>
<line x1="310.7" y1="424.00550000000004" x2="313.90000000000003" y2="424.00550000000004" stroke="#3a679c" stroke-width="0.75"/>
<line x1="310.7" y1="428.19050000000004" x2="313.90000000000003" y2="428.19050000000004" stroke="#3a679c" stroke-width="0.75"/>
<path d="M312.30 424.20 L314.10 427.40 L310.50 427.40 Z" fill="#1f3f6a"/>
<polyline points="224.6,450.65000000000003 254.0,447.1625 283.0,438.374 312.3,426.098" fill="none" stroke="#48a048" stroke-width="1.05"/>
<rect x="223.05" y="449.10" width="3.1" height="3.1" fill="#3a8c3a"/>
<line x1="254.0" y1="443.675" x2="254.0" y2="450.65000000000003" stroke="#48a048" stroke-width="0.75"/>
<line x1="252.4" y1="443.675" x2="255.6" y2="443.675" stroke="#48a048" stroke-width="0.75"/>
<line x1="252.4" y1="450.65000000000003" x2="255.6" y2="450.65000000000003" stroke="#48a048" stroke-width="0.75"/>
<rect x="252.45" y="445.61" width="3.1" height="3.1" fill="#3a8c3a"/>
<line x1="283.0" y1="436.00250000000005" x2="283.0" y2="440.74550000000005" stroke="#48a048" stroke-width="0.75"/>
<line x1="281.4" y1="436.00250000000005" x2="284.6" y2="436.00250000000005" stroke="#48a048" stroke-width="0.75"/>
<line x1="281.4" y1="440.74550000000005" x2="284.6" y2="440.74550000000005" stroke="#48a048" stroke-width="0.75"/>
<rect x="281.45" y="436.82" width="3.1" height="3.1" fill="#3a8c3a"/>
<line x1="312.3" y1="423.029" x2="312.3" y2="429.16700000000003" stroke="#48a048" stroke-width="0.75"/>
<line x1="310.7" y1="423.029" x2="313.90000000000003" y2="423.029" stroke="#48a048" stroke-width="0.75"/>
<line x1="310.7" y1="429.16700000000003" x2="313.90000000000003" y2="429.16700000000003" stroke="#48a048" stroke-width="0.75"/>
<rect x="310.75" y="424.55" width="3.1" height="3.1" fill="#3a8c3a"/>
<polyline points="224.6,450.65000000000003 254.0,440.88500000000005 283.0,419.26250000000005 312.3,393.45500000000004" fill="none" stroke="#b8152f" stroke-width="1.1"/>
<circle cx="224.6" cy="450.65" r="1.65" fill="#a30f29"/>
<line x1="254.0" y1="440.1875" x2="254.0" y2="441.58250000000004" stroke="#b8152f" stroke-width="0.75"/>
<line x1="252.4" y1="440.1875" x2="255.6" y2="440.1875" stroke="#b8152f" stroke-width="0.75"/>
<line x1="252.4" y1="441.58250000000004" x2="255.6" y2="441.58250000000004" stroke="#b8152f" stroke-width="0.75"/>
<circle cx="254.0" cy="440.89" r="1.65" fill="#a30f29"/>
<line x1="283.0" y1="415.49600000000004" x2="283.0" y2="423.029" stroke="#b8152f" stroke-width="0.75"/>
<line x1="281.4" y1="415.49600000000004" x2="284.6" y2="415.49600000000004" stroke="#b8152f" stroke-width="0.75"/>
<line x1="281.4" y1="423.029" x2="284.6" y2="423.029" stroke="#b8152f" stroke-width="0.75"/>
<circle cx="283.0" cy="419.26" r="1.65" fill="#a30f29"/>
<line x1="312.3" y1="390.665" x2="312.3" y2="396.245" stroke="#b8152f" stroke-width="0.75"/>
<line x1="310.7" y1="390.665" x2="313.90000000000003" y2="390.665" stroke="#b8152f" stroke-width="0.75"/>
<line x1="310.7" y1="396.245" x2="313.90000000000003" y2="396.245" stroke="#b8152f" stroke-width="0.75"/>
<circle cx="312.3" cy="393.46" r="1.65" fill="#a30f29"/>
<line x1="211.6" y1="386.9" x2="220.4" y2="386.9" stroke="#c8405c" stroke-width="1.3"/>
<circle cx="215.9" cy="386.90" r="1.65" fill="#a30f29"/>
<text x="224.1" y="389.09999999999997" font-size="7.8" text-anchor="start" font-weight="normal" fill="#222"  stroke="#222" stroke-width="0.22">sgc</text>
<line x1="211.6" y1="398.2" x2="220.4" y2="398.2" stroke="#4aa84a" stroke-width="1.3"/>
<rect x="214.35" y="396.65" width="3.1" height="3.1" fill="#3a8c3a"/>
<text x="224.1" y="400.4" font-size="7.8" text-anchor="start" font-weight="normal" fill="#222"  stroke="#222" stroke-width="0.22">sgYBX1-1</text>
<line x1="211.6" y1="409.5" x2="220.4" y2="409.5" stroke="#34597f" stroke-width="1.3"/>
<path d="M215.90 407.60 L217.70 410.80 L214.10 410.80 Z" fill="#1f3f6a"/>
<text x="224.1" y="411.7" font-size="7.8" text-anchor="start" font-weight="normal" fill="#222"  stroke="#222" stroke-width="0.22">shYBX1-2</text>
<circle cx="281.52" cy="433.8" r="1.08" fill="#1a1a1a"/>
<circle cx="284.88" cy="433.8" r="1.08" fill="#1a1a1a"/>
<circle cx="281.52" cy="443.7" r="1.08" fill="#1a1a1a"/>
<circle cx="284.88" cy="443.7" r="1.08" fill="#1a1a1a"/>
<circle cx="308.95" cy="420.7" r="1.08" fill="#1a1a1a"/>
<circle cx="312.30" cy="420.7" r="1.08" fill="#1a1a1a"/>
<circle cx="315.65" cy="420.7" r="1.08" fill="#1a1a1a"/>
<circle cx="308.95" cy="433.0" r="1.08" fill="#1a1a1a"/>
<circle cx="312.30" cy="433.0" r="1.08" fill="#1a1a1a"/>
<circle cx="315.65" cy="433.0" r="1.08" fill="#1a1a1a"/>
<text x="449.5" y="368.6" font-size="9.6" text-anchor="middle" font-weight="normal" fill="#222"  stroke="#222" stroke-width="0.22">Jurkat cells</text>
<text x="0" y="0" font-size="9.0" text-anchor="middle" fill="#222" stroke="#222" stroke-width="0.42" transform="translate(368.6 421) rotate(-90) scale(0.765 1)">Fold change</text>
<line x1="386.4" y1="377.9" x2="386.4" y2="465.3" stroke="#2a2a2a" stroke-width="1.1"/>
<line x1="385.9" y1="464.8" x2="512.8" y2="464.8" stroke="#2a2a2a" stroke-width="1.1"/>
<line x1="383.4" y1="464.8" x2="386.4" y2="464.8" stroke="#2a2a2a" stroke-width="1"/>
<text x="380.09999999999997" y="467.7" font-size="8.2" text-anchor="end" font-weight="normal" fill="#222"  stroke="#222" stroke-width="0.22">0</text>
<line x1="383.4" y1="436.8" x2="386.4" y2="436.8" stroke="#2a2a2a" stroke-width="1"/>
<text x="380.09999999999997" y="439.7" font-size="8.2" text-anchor="end" font-weight="normal" fill="#222"  stroke="#222" stroke-width="0.22">2</text>
<line x1="383.4" y1="408.8" x2="386.4" y2="408.8" stroke="#2a2a2a" stroke-width="1"/>
<text x="380.09999999999997" y="411.7" font-size="8.2" text-anchor="end" font-weight="normal" fill="#222"  stroke="#222" stroke-width="0.22">4</text>
<line x1="383.4" y1="380.8" x2="386.4" y2="380.8" stroke="#2a2a2a" stroke-width="1"/>
<text x="380.09999999999997" y="383.7" font-size="8.2" text-anchor="end" font-weight="normal" fill="#222"  stroke="#222" stroke-width="0.22">6</text>
<line x1="405.7" y1="464.8" x2="405.7" y2="467.3" stroke="#2a2a2a" stroke-width="1"/>
<text x="405.7" y="479.0" font-size="8.2" text-anchor="middle" font-weight="normal" fill="#222"  stroke="#222" stroke-width="0.22">0h</text>
<line x1="434.7" y1="464.8" x2="434.7" y2="467.3" stroke="#2a2a2a" stroke-width="1"/>
<text x="434.7" y="479.0" font-size="8.2" text-anchor="middle" font-weight="normal" fill="#222"  stroke="#222" stroke-width="0.22">24h</text>
<line x1="464.3" y1="464.8" x2="464.3" y2="467.3" stroke="#2a2a2a" stroke-width="1"/>
<text x="464.3" y="479.0" font-size="8.2" text-anchor="middle" font-weight="normal" fill="#222"  stroke="#222" stroke-width="0.22">48h</text>
<line x1="492.9" y1="464.8" x2="492.9" y2="467.3" stroke="#2a2a2a" stroke-width="1"/>
<text x="492.9" y="479.0" font-size="8.2" text-anchor="middle" font-weight="normal" fill="#222"  stroke="#222" stroke-width="0.22">72h</text>
<polyline points="405.7,450.8 434.7,438.90000000000003 464.3,418.6 492.9,398.72" fill="none" stroke="#3a679c" stroke-width="0.85"/>
<path d="M405.70 448.90 L407.50 452.10 L403.90 452.10 Z" fill="#1f3f6a"/>
<line x1="434.7" y1="438.2" x2="434.7" y2="439.6" stroke="#3a679c" stroke-width="0.75"/>
<line x1="433.09999999999997" y1="438.2" x2="436.3" y2="438.2" stroke="#3a679c" stroke-width="0.75"/>
<line x1="433.09999999999997" y1="439.6" x2="436.3" y2="439.6" stroke="#3a679c" stroke-width="0.75"/>
<path d="M434.70 437.00 L436.50 440.20 L432.90 440.20 Z" fill="#1f3f6a"/>
<line x1="464.3" y1="416.5" x2="464.3" y2="420.7" stroke="#3a679c" stroke-width="0.75"/>
<line x1="462.7" y1="416.5" x2="465.90000000000003" y2="416.5" stroke="#3a679c" stroke-width="0.75"/>
<line x1="462.7" y1="420.7" x2="465.90000000000003" y2="420.7" stroke="#3a679c" stroke-width="0.75"/>
<path d="M464.30 416.70 L466.10 419.90 L462.50 419.90 Z" fill="#1f3f6a"/>
<line x1="492.9" y1="398.02" x2="492.9" y2="399.42" stroke="#3a679c" stroke-width="0.75"/>
<line x1="491.29999999999995" y1="398.02" x2="494.5" y2="398.02" stroke="#3a679c" stroke-width="0.75"/>
<line x1="491.29999999999995" y1="399.42" x2="494.5" y2="399.42" stroke="#3a679c" stroke-width="0.75"/>
<path d="M492.90 396.82 L494.70 400.02 L491.10 400.02 Z" fill="#1f3f6a"/>
<polyline points="405.7,450.8 434.7,449.40000000000003 464.3,445.48 492.9,444.22" fill="none" stroke="#48a048" stroke-width="1.05"/>
<rect x="404.15" y="449.25" width="3.1" height="3.1" fill="#3a8c3a"/>
<line x1="434.7" y1="448.98" x2="434.7" y2="449.82" stroke="#48a048" stroke-width="0.75"/>
<line x1="433.09999999999997" y1="448.98" x2="436.3" y2="448.98" stroke="#48a048" stroke-width="0.75"/>
<line x1="433.09999999999997" y1="449.82" x2="436.3" y2="449.82" stroke="#48a048" stroke-width="0.75"/>
<rect x="433.15" y="447.85" width="3.1" height="3.1" fill="#3a8c3a"/>
<line x1="464.3" y1="444.78000000000003" x2="464.3" y2="446.18" stroke="#48a048" stroke-width="0.75"/>
<line x1="462.7" y1="444.78000000000003" x2="465.90000000000003" y2="444.78000000000003" stroke="#48a048" stroke-width="0.75"/>
<line x1="462.7" y1="446.18" x2="465.90000000000003" y2="446.18" stroke="#48a048" stroke-width="0.75"/>
<rect x="462.75" y="443.93" width="3.1" height="3.1" fill="#3a8c3a"/>
<line x1="492.9" y1="443.52" x2="492.9" y2="444.92" stroke="#48a048" stroke-width="0.75"/>
<line x1="491.29999999999995" y1="443.52" x2="494.5" y2="443.52" stroke="#48a048" stroke-width="0.75"/>
<line x1="491.29999999999995" y1="444.92" x2="494.5" y2="444.92" stroke="#48a048" stroke-width="0.75"/>
<rect x="491.35" y="442.67" width="3.1" height="3.1" fill="#3a8c3a"/>
<polyline points="405.7,450.8 434.7,436.1 464.3,411.6 492.9,387.8" fill="none" stroke="#b8152f" stroke-width="1.1"/>
<circle cx="405.7" cy="450.80" r="1.65" fill="#a30f29"/>
<line x1="434.7" y1="435.40000000000003" x2="434.7" y2="436.8" stroke="#b8152f" stroke-width="0.75"/>
<line x1="433.09999999999997" y1="435.40000000000003" x2="436.3" y2="435.40000000000003" stroke="#b8152f" stroke-width="0.75"/>
<line x1="433.09999999999997" y1="436.8" x2="436.3" y2="436.8" stroke="#b8152f" stroke-width="0.75"/>
<circle cx="434.7" cy="436.10" r="1.65" fill="#a30f29"/>
<line x1="464.3" y1="410.90000000000003" x2="464.3" y2="412.3" stroke="#b8152f" stroke-width="0.75"/>
<line x1="462.7" y1="410.90000000000003" x2="465.90000000000003" y2="410.90000000000003" stroke="#b8152f" stroke-width="0.75"/>
<line x1="462.7" y1="412.3" x2="465.90000000000003" y2="412.3" stroke="#b8152f" stroke-width="0.75"/>
<circle cx="464.3" cy="411.60" r="1.65" fill="#a30f29"/>
<line x1="492.9" y1="387.38" x2="492.9" y2="388.22" stroke="#b8152f" stroke-width="0.75"/>
<line x1="491.29999999999995" y1="387.38" x2="494.5" y2="387.38" stroke="#b8152f" stroke-width="0.75"/>
<line x1="491.29999999999995" y1="388.22" x2="494.5" y2="388.22" stroke="#b8152f" stroke-width="0.75"/>
<circle cx="492.9" cy="387.80" r="1.65" fill="#a30f29"/>
<line x1="391.8" y1="380.5" x2="400.6" y2="380.5" stroke="#c8405c" stroke-width="1.3"/>
<circle cx="396.1" cy="380.50" r="1.65" fill="#a30f29"/>
<text x="404.3" y="382.7" font-size="7.8" text-anchor="start" font-weight="normal" fill="#222"  stroke="#222" stroke-width="0.22">shC</text>
<line x1="391.8" y1="391.85" x2="400.6" y2="391.85" stroke="#4aa84a" stroke-width="1.3"/>
<rect x="394.55" y="390.30" width="3.1" height="3.1" fill="#3a8c3a"/>
<text x="404.3" y="394.05" font-size="7.8" text-anchor="start" font-weight="normal" fill="#222"  stroke="#222" stroke-width="0.22">shYBX1-3</text>
<line x1="391.8" y1="403.2" x2="400.6" y2="403.2" stroke="#34597f" stroke-width="1.3"/>
<path d="M396.10 401.30 L397.90 404.50 L394.30 404.50 Z" fill="#1f3f6a"/>
<text x="404.3" y="405.4" font-size="7.8" text-anchor="start" font-weight="normal" fill="#222"  stroke="#222" stroke-width="0.22">shYBX1-3+YBX1</text>
<line x1="497.6" y1="398.7" x2="497.6" y2="444.4" stroke="#333" stroke-width="0.85"/>
<line x1="495.6" y1="398.7" x2="497.6" y2="398.7" stroke="#333" stroke-width="0.85"/>
<line x1="495.6" y1="444.4" x2="497.6" y2="444.4" stroke="#333" stroke-width="0.85"/>
<line x1="503.4" y1="386.9" x2="503.4" y2="444.4" stroke="#333" stroke-width="0.85"/>
<line x1="501.4" y1="386.9" x2="503.4" y2="386.9" stroke="#333" stroke-width="0.85"/>
<line x1="501.4" y1="444.4" x2="503.4" y2="444.4" stroke="#333" stroke-width="0.85"/>
<circle cx="500.1" cy="420.90" r="1.08" fill="#1a1a1a"/>
<circle cx="500.1" cy="423.80" r="1.08" fill="#1a1a1a"/>
<circle cx="500.1" cy="426.70" r="1.08" fill="#1a1a1a"/>
<circle cx="506.2" cy="414.40" r="1.08" fill="#1a1a1a"/>
<circle cx="506.2" cy="417.60" r="1.08" fill="#1a1a1a"/>
<circle cx="506.2" cy="420.80" r="1.08" fill="#1a1a1a"/>
<rect x="0.5" y="0.5" width="519" height="487" fill="none" stroke="#525252" stroke-width="1"/>
</svg>
</body></html>
